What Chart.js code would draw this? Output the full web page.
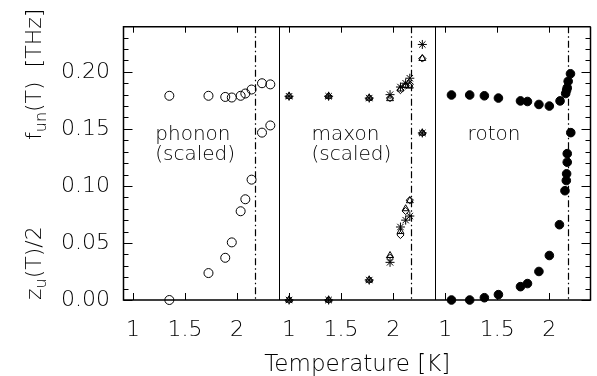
<!DOCTYPE html>
<html><head><meta charset="utf-8">
<script src="https://cdn.jsdelivr.net/npm/chart.js@4/dist/chart.umd.min.js"></script>
<style>html,body{margin:0;padding:0;background:#fff}</style>
</head><body><canvas id="c" width="597" height="376"></canvas>
<script>
// ---------- data ----------
const panelNames = ['phonon', 'maxon', 'roton'];
const panelSubNames = ['(scaled)', '(scaled)', ''];
const xTickValues = [1, 1.5, 2];
const xTickLabels = ['1', '1.5', '2'];
const yTickValues = [0, 0.05, 0.10, 0.15, 0.20];
const lambdaT = 2.175;

const phononT = [1.35, 1.726, 1.887, 1.95, 2.035, 2.08, 2.14, 2.24, 2.32];
const phononF = [0.179, 0.179, 0.178, 0.1775, 0.179, 0.181, 0.1845, 0.190, 0.189];
const phononZ = [0.0, 0.0236, 0.037, 0.0505, 0.0778, 0.0883, 0.1055, 0.1467, 0.153];

const maxonT = [1.0, 1.38, 1.77, 1.97, 2.07, 2.12, 2.16, 2.28];
const maxonF_star = [0.1786, 0.1786, 0.177, 0.180, 0.1867, 0.190, 0.1944, 0.224];
const maxonF_tri = [0.1786, 0.1786, 0.177, 0.1765, 0.185, 0.188, 0.1875, 0.2117];
const maxonF_dia = [0.1786, 0.1786, 0.177, 0.177, 0.184, 0.188, 0.189, 0.2117];
const maxonZ_star = [0.0, 0.0, 0.0175, 0.033, 0.064, 0.070, 0.0736, 0.1464];
const maxonZ_tri = [0.0, 0.0, 0.0175, 0.039, 0.060, 0.080, 0.087, 0.1464];
const maxonZ_dia = [0.0, 0.0, 0.0175, 0.037, 0.057, 0.078, 0.0875, 0.1464];

const rotonFT = [1.06, 1.235, 1.376, 1.511, 1.723, 1.79, 1.90, 2.0, 2.103, 2.157, 2.166, 2.172, 2.181, 2.203];
const rotonF = [0.1797, 0.1797, 0.179, 0.177, 0.1745, 0.174, 0.1714, 0.170, 0.1745, 0.181, 0.184, 0.186, 0.1917, 0.1983];
const rotonZT = [1.06, 1.235, 1.376, 1.511, 1.723, 1.79, 1.90, 2.0, 2.097, 2.15, 2.163, 2.166, 2.172, 2.172, 2.206];
const rotonZ = [0.0, 0.0, 0.002, 0.0047, 0.0117, 0.0144, 0.025, 0.039, 0.066, 0.0958, 0.1047, 0.1106, 0.1208, 0.1283, 0.1467];

// ---------- layout helpers ----------
const T0 = 0.905, panelSpan = 1.5;
const FAM = "'DejaVu Sans', sans-serif";
const WT = '200';
const pts = (T, V, p) => T.map((t, i) => ({x: t + p * panelSpan, y: V[i]}));

const xTickPos = [], xTickText = [];
for (let p = 0; p < 3; p++) xTickValues.forEach((v, i) => { xTickPos.push(v + p * panelSpan); xTickText.push(xTickLabels[i]); });

function ds(data, style, radius, fill) {
  return {data, pointStyle: style, pointRadius: radius, pointHoverRadius: radius,
    pointBorderColor: '#000', pointBackgroundColor: fill ? '#000' : 'rgba(0,0,0,0)',
    pointBorderWidth: 1, showLine: false, clip: false};
}

const datasets = [
  ds(pts(phononT, phononF, 0), 'circle', 4.5, false),
  ds(pts(phononT, phononZ, 0), 'circle', 4.5, false),
  ds(pts(maxonT, maxonF_tri, 1), 'triangle', 4, false),
  ds(pts(maxonT, maxonF_dia, 1), 'rectRot', 3.6, false),
  ds(pts(maxonT, maxonF_star, 1), 'star', 4.5, false),
  ds(pts(maxonT, maxonZ_tri, 1), 'triangle', 4, false),
  ds(pts(maxonT, maxonZ_dia, 1), 'rectRot', 3.6, false),
  ds(pts(maxonT, maxonZ_star, 1), 'star', 4.5, false),
  ds(pts(rotonFT, rotonF, 2), 'circle', 4.3, true),
  ds(pts(rotonZT, rotonZ, 2), 'circle', 4.3, true),
];

function drawParts(ctx, parts, x0, y0) {
  ctx.save();
  ctx.translate(x0, y0);
  ctx.rotate(-Math.PI / 2);
  ctx.textBaseline = 'alphabetic';
  ctx.textAlign = 'left';
  let x = 0;
  parts.forEach(p => {
    ctx.font = WT + ' ' + (p.sub ? '16px ' : '22px ') + FAM;
    ctx.fillText(p.t, x, p.sub ? 5 : 0);
    x += ctx.measureText(p.t).width;
  });
  ctx.restore();
}

const decor = {
  id: 'decor',
  beforeDatasetsDraw(chart) {
    const {ctx, chartArea: a, scales: {x, y}} = chart;
    ctx.save();
    ctx.strokeStyle = '#000';
    ctx.lineWidth = 1;
    for (let p = 1; p < 3; p++) {
      const px = Math.round(x.getPixelForValue(T0 + p * panelSpan)) + 0.5;
      ctx.beginPath(); ctx.moveTo(px, a.top); ctx.lineTo(px, a.bottom); ctx.stroke();
    }
    ctx.lineWidth = 1.2;
    ctx.setLineDash([7, 3, 1.5, 3]);
    for (let p = 0; p < 3; p++) {
      const px = Math.round(x.getPixelForValue(lambdaT + p * panelSpan)) + 0.5;
      ctx.beginPath(); ctx.moveTo(px, a.top); ctx.lineTo(px, a.bottom); ctx.stroke();
    }
    ctx.setLineDash([]);
    ctx.fillStyle = '#000';
    ctx.font = WT + ' 20px ' + FAM;
    ctx.textAlign = 'left';
    ctx.textBaseline = 'alphabetic';
    for (let p = 0; p < 3; p++) {
      const px = x.getPixelForValue(1.215 + p * panelSpan);
      ctx.fillText(panelNames[p], px, y.getPixelForValue(0.140));
      if (panelSubNames[p]) ctx.fillText(panelSubNames[p], px, y.getPixelForValue(0.1225));
    }
    drawParts(ctx, [{t: 'z'}, {t: 'u', sub: true}, {t: '(T)/2'}], 41, 300);
    drawParts(ctx, [{t: 'f'}, {t: 'un', sub: true}, {t: '(T)  [THz]'}], 41, 140);
    ctx.restore();
  },
  afterDatasetsDraw(chart) {
    const {ctx, chartArea: a, scales: {x, y}} = chart;
    ctx.save();
    ctx.strokeStyle = '#000';
    ctx.lineWidth = 1.5;
    const L = a.left + 0.5, R = a.right - 1, T = a.top + 0.5, B = a.bottom;
    ctx.beginPath();
    ctx.moveTo(R, T); ctx.lineTo(L, T); ctx.lineTo(L, B); ctx.lineTo(R, B); ctx.lineTo(R, T);
    ctx.stroke();
    ctx.lineWidth = 1;
    xTickPos.forEach(v => {
      const px = Math.round(x.getPixelForValue(v)) + 0.5;
      ctx.beginPath();
      ctx.moveTo(px, B); ctx.lineTo(px, B - 7);
      ctx.moveTo(px, T); ctx.lineTo(px, T + 6);
      ctx.stroke();
    });
    for (let k = 0; k <= 24; k++) {
      const v = k / 100;
      const py = Math.round(y.getPixelForValue(v)) + 0.5;
      const len = (k % 5 === 0) ? 9 : 5;
      ctx.beginPath();
      ctx.moveTo(L, py); ctx.lineTo(L + len, py);
      ctx.moveTo(R, py); ctx.lineTo(R - len, py);
      ctx.stroke();
    }
    ctx.restore();
  }
};

new Chart(document.getElementById('c'), {
  type: 'scatter',
  data: {datasets},
  options: {
    responsive: false,
    animation: false,
    events: [],
    layout: {padding: {left: 0, right: 0, top: 12, bottom: 0}},
    plugins: {legend: {display: false}, tooltip: {enabled: false}},
    scales: {
      x: {
        type: 'linear', min: T0, max: T0 + 3 * panelSpan,
        grid: {display: false, drawTicks: false}, border: {display: false},
        afterBuildTicks: s => { s.ticks = xTickPos.map(v => ({value: v})); },
        ticks: {autoSkip: false, maxRotation: 0, minRotation: 0, padding: 17, color: '#000',
          font: {family: FAM, size: 22, weight: WT}, callback: (v, i) => xTickText[i]},
        title: {display: true, text: 'Temperature [K]', color: '#000',
          font: {family: FAM, size: 23, weight: WT}, padding: {top: 0, bottom: -3}},
        afterFit: s => { s.height = 76; }
      },
      y: {
        min: 0, max: 0.24,
        grid: {display: false, drawTicks: false}, border: {display: false},
        afterBuildTicks: s => { s.ticks = yTickValues.map(v => ({value: v})); },
        ticks: {padding: 13, color: '#000', font: {family: FAM, size: 22, weight: WT},
          callback: v => v.toFixed(2)},
        afterFit: s => { s.width = 123; }
      }
    }
  },
  plugins: [decor]
});
</script>
</body></html>
